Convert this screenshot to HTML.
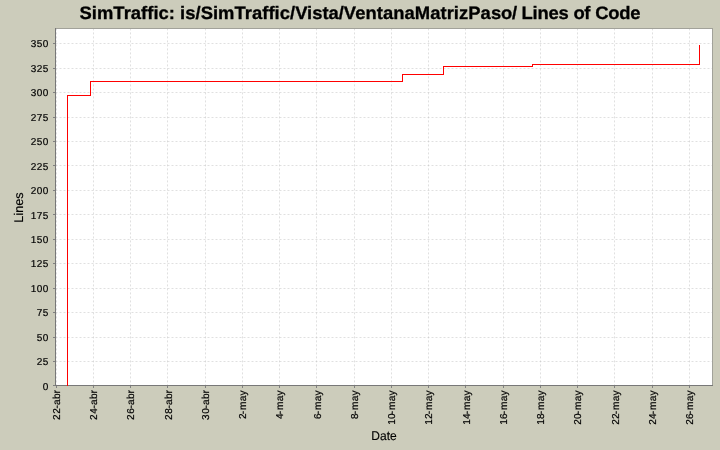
<!DOCTYPE html>
<html><head><meta charset="utf-8"><title>Lines of Code</title>
<style>
html,body{margin:0;padding:0;background:#ccccbb;}
body{width:720px;height:450px;overflow:hidden;font-family:"Liberation Sans",sans-serif;}
#wrap{width:720px;height:450px;will-change:transform;transform:translateZ(0);}
svg{display:block}
text{font-family:"Liberation Sans",sans-serif;fill:#000;text-rendering:geometricPrecision;}
</style></head><body><div id="wrap">
<svg width="720" height="450" viewBox="0 0 720 450">
<rect x="56" y="29" width="656" height="356" fill="#ffffff"/>

<g stroke="#c0c0c0" stroke-width="0.5" stroke-dasharray="2,2" fill="none">
<line x1="56.50" y1="28.4" x2="56.50" y2="385.5"/>
<line x1="93.50" y1="28.4" x2="93.50" y2="385.5"/>
<line x1="130.50" y1="28.4" x2="130.50" y2="385.5"/>
<line x1="167.50" y1="28.4" x2="167.50" y2="385.5"/>
<line x1="205.50" y1="28.4" x2="205.50" y2="385.5"/>
<line x1="242.50" y1="28.4" x2="242.50" y2="385.5"/>
<line x1="279.50" y1="28.4" x2="279.50" y2="385.5"/>
<line x1="316.50" y1="28.4" x2="316.50" y2="385.5"/>
<line x1="354.50" y1="28.4" x2="354.50" y2="385.5"/>
<line x1="391.50" y1="28.4" x2="391.50" y2="385.5"/>
<line x1="428.50" y1="28.4" x2="428.50" y2="385.5"/>
<line x1="465.50" y1="28.4" x2="465.50" y2="385.5"/>
<line x1="503.50" y1="28.4" x2="503.50" y2="385.5"/>
<line x1="540.50" y1="28.4" x2="540.50" y2="385.5"/>
<line x1="577.50" y1="28.4" x2="577.50" y2="385.5"/>
<line x1="614.50" y1="28.4" x2="614.50" y2="385.5"/>
<line x1="652.50" y1="28.4" x2="652.50" y2="385.5"/>
<line x1="689.50" y1="28.4" x2="689.50" y2="385.5"/>
<line x1="55.5" y1="361.50" x2="712.5" y2="361.50"/>
<line x1="55.5" y1="337.50" x2="712.5" y2="337.50"/>
<line x1="55.5" y1="312.50" x2="712.5" y2="312.50"/>
<line x1="55.5" y1="288.50" x2="712.5" y2="288.50"/>
<line x1="55.5" y1="263.50" x2="712.5" y2="263.50"/>
<line x1="55.5" y1="239.50" x2="712.5" y2="239.50"/>
<line x1="55.5" y1="214.50" x2="712.5" y2="214.50"/>
<line x1="55.5" y1="190.50" x2="712.5" y2="190.50"/>
<line x1="55.5" y1="165.50" x2="712.5" y2="165.50"/>
<line x1="55.5" y1="141.50" x2="712.5" y2="141.50"/>
<line x1="55.5" y1="117.50" x2="712.5" y2="117.50"/>
<line x1="55.5" y1="92.50" x2="712.5" y2="92.50"/>
<line x1="55.5" y1="68.50" x2="712.5" y2="68.50"/>
<line x1="55.5" y1="43.50" x2="712.5" y2="43.50"/>
</g>
<g shape-rendering="crispEdges">
<rect x="55" y="28" width="658" height="1" fill="#a2a29a"/>
<rect x="712" y="28" width="1" height="358" fill="#a2a29a"/>
<rect x="55" y="28" width="1" height="358" fill="#787878"/>
<rect x="55" y="385" width="658" height="1" fill="#787878"/>
<rect x="56" y="386" width="1" height="2" fill="#808080"/>
<rect x="93" y="386" width="1" height="2" fill="#808080"/>
<rect x="130" y="386" width="1" height="2" fill="#808080"/>
<rect x="167" y="386" width="1" height="2" fill="#808080"/>
<rect x="205" y="386" width="1" height="2" fill="#808080"/>
<rect x="242" y="386" width="1" height="2" fill="#808080"/>
<rect x="279" y="386" width="1" height="2" fill="#808080"/>
<rect x="316" y="386" width="1" height="2" fill="#808080"/>
<rect x="354" y="386" width="1" height="2" fill="#808080"/>
<rect x="391" y="386" width="1" height="2" fill="#808080"/>
<rect x="428" y="386" width="1" height="2" fill="#808080"/>
<rect x="465" y="386" width="1" height="2" fill="#808080"/>
<rect x="503" y="386" width="1" height="2" fill="#808080"/>
<rect x="540" y="386" width="1" height="2" fill="#808080"/>
<rect x="577" y="386" width="1" height="2" fill="#808080"/>
<rect x="614" y="386" width="1" height="2" fill="#808080"/>
<rect x="652" y="386" width="1" height="2" fill="#808080"/>
<rect x="689" y="386" width="1" height="2" fill="#808080"/>
<rect x="53" y="385" width="2" height="1" fill="#808080"/>
<rect x="53" y="361" width="2" height="1" fill="#808080"/>
<rect x="53" y="337" width="2" height="1" fill="#808080"/>
<rect x="53" y="312" width="2" height="1" fill="#808080"/>
<rect x="53" y="288" width="2" height="1" fill="#808080"/>
<rect x="53" y="263" width="2" height="1" fill="#808080"/>
<rect x="53" y="239" width="2" height="1" fill="#808080"/>
<rect x="53" y="214" width="2" height="1" fill="#808080"/>
<rect x="53" y="190" width="2" height="1" fill="#808080"/>
<rect x="53" y="165" width="2" height="1" fill="#808080"/>
<rect x="53" y="141" width="2" height="1" fill="#808080"/>
<rect x="53" y="117" width="2" height="1" fill="#808080"/>
<rect x="53" y="92" width="2" height="1" fill="#808080"/>
<rect x="53" y="68" width="2" height="1" fill="#808080"/>
<rect x="53" y="43" width="2" height="1" fill="#808080"/>
</g>
<text x="48.3" y="390" font-size="10" stroke="#000" stroke-width="0.2" text-anchor="end" textLength="5.5" lengthAdjust="spacing">0</text>
<text x="48.3" y="365" font-size="10" stroke="#000" stroke-width="0.2" text-anchor="end" textLength="11.5" lengthAdjust="spacing">25</text>
<text x="48.3" y="341" font-size="10" stroke="#000" stroke-width="0.2" text-anchor="end" textLength="11.5" lengthAdjust="spacing">50</text>
<text x="48.3" y="316" font-size="10" stroke="#000" stroke-width="0.2" text-anchor="end" textLength="11.5" lengthAdjust="spacing">75</text>
<text x="48.3" y="292" font-size="10" stroke="#000" stroke-width="0.2" text-anchor="end" textLength="17.5" lengthAdjust="spacing">100</text>
<text x="48.3" y="267" font-size="10" stroke="#000" stroke-width="0.2" text-anchor="end" textLength="17.5" lengthAdjust="spacing">125</text>
<text x="48.3" y="243" font-size="10" stroke="#000" stroke-width="0.2" text-anchor="end" textLength="17.5" lengthAdjust="spacing">150</text>
<text x="48.3" y="219" font-size="10" stroke="#000" stroke-width="0.2" text-anchor="end" textLength="17.5" lengthAdjust="spacing">175</text>
<text x="48.3" y="194" font-size="10" stroke="#000" stroke-width="0.2" text-anchor="end" textLength="17.5" lengthAdjust="spacing">200</text>
<text x="48.3" y="170" font-size="10" stroke="#000" stroke-width="0.2" text-anchor="end" textLength="17.5" lengthAdjust="spacing">225</text>
<text x="48.3" y="145" font-size="10" stroke="#000" stroke-width="0.2" text-anchor="end" textLength="17.5" lengthAdjust="spacing">250</text>
<text x="48.3" y="121" font-size="10" stroke="#000" stroke-width="0.2" text-anchor="end" textLength="17.5" lengthAdjust="spacing">275</text>
<text x="48.3" y="96" font-size="10" stroke="#000" stroke-width="0.2" text-anchor="end" textLength="17.5" lengthAdjust="spacing">300</text>
<text x="48.3" y="72" font-size="10" stroke="#000" stroke-width="0.2" text-anchor="end" textLength="17.5" lengthAdjust="spacing">325</text>
<text x="48.3" y="47" font-size="10" stroke="#000" stroke-width="0.2" text-anchor="end" textLength="17.5" lengthAdjust="spacing">350</text>
<text transform="translate(60,390) rotate(-90)" x="-30.00 -23.70 -18.40 -14.90 -9.10 -3.50" y="0" font-size="10" stroke="#000" stroke-width="0.2">22<tspan font-size="10.2">-abr</tspan></text>
<text transform="translate(97,390) rotate(-90)" x="-30.00 -23.70 -18.40 -14.90 -9.10 -3.50" y="0" font-size="10" stroke="#000" stroke-width="0.2">24<tspan font-size="10.2">-abr</tspan></text>
<text transform="translate(134,390) rotate(-90)" x="-30.00 -23.70 -18.40 -14.90 -9.10 -3.50" y="0" font-size="10" stroke="#000" stroke-width="0.2">26<tspan font-size="10.2">-abr</tspan></text>
<text transform="translate(172,390) rotate(-90)" x="-30.00 -23.70 -18.40 -14.90 -9.10 -3.50" y="0" font-size="10" stroke="#000" stroke-width="0.2">28<tspan font-size="10.2">-abr</tspan></text>
<text transform="translate(209,390) rotate(-90)" x="-30.00 -23.70 -18.40 -14.90 -9.10 -3.50" y="0" font-size="10" stroke="#000" stroke-width="0.2">30<tspan font-size="10.2">-abr</tspan></text>
<text transform="translate(246,390) rotate(-90)" x="-28.95 -24.30 -20.10 -11.20 -5.40" y="0" font-size="10" stroke="#000" stroke-width="0.2">2<tspan font-size="10.2">-may</tspan></text>
<text transform="translate(283,390) rotate(-90)" x="-28.95 -24.30 -20.10 -11.20 -5.40" y="0" font-size="10" stroke="#000" stroke-width="0.2">4<tspan font-size="10.2">-may</tspan></text>
<text transform="translate(321,390) rotate(-90)" x="-28.95 -24.30 -20.10 -11.20 -5.40" y="0" font-size="10" stroke="#000" stroke-width="0.2">6<tspan font-size="10.2">-may</tspan></text>
<text transform="translate(358,390) rotate(-90)" x="-28.95 -24.30 -20.10 -11.20 -5.40" y="0" font-size="10" stroke="#000" stroke-width="0.2">8<tspan font-size="10.2">-may</tspan></text>
<text transform="translate(395,390) rotate(-90)" x="-34.80 -28.95 -24.30 -20.10 -11.20 -5.40" y="0" font-size="10" stroke="#000" stroke-width="0.2">10<tspan font-size="10.2">-may</tspan></text>
<text transform="translate(432,390) rotate(-90)" x="-34.80 -28.95 -24.30 -20.10 -11.20 -5.40" y="0" font-size="10" stroke="#000" stroke-width="0.2">12<tspan font-size="10.2">-may</tspan></text>
<text transform="translate(470,390) rotate(-90)" x="-34.80 -28.95 -24.30 -20.10 -11.20 -5.40" y="0" font-size="10" stroke="#000" stroke-width="0.2">14<tspan font-size="10.2">-may</tspan></text>
<text transform="translate(507,390) rotate(-90)" x="-34.80 -28.95 -24.30 -20.10 -11.20 -5.40" y="0" font-size="10" stroke="#000" stroke-width="0.2">16<tspan font-size="10.2">-may</tspan></text>
<text transform="translate(544,390) rotate(-90)" x="-34.80 -28.95 -24.30 -20.10 -11.20 -5.40" y="0" font-size="10" stroke="#000" stroke-width="0.2">18<tspan font-size="10.2">-may</tspan></text>
<text transform="translate(581,390) rotate(-90)" x="-34.80 -28.95 -24.30 -20.10 -11.20 -5.40" y="0" font-size="10" stroke="#000" stroke-width="0.2">20<tspan font-size="10.2">-may</tspan></text>
<text transform="translate(619,390) rotate(-90)" x="-34.80 -28.95 -24.30 -20.10 -11.20 -5.40" y="0" font-size="10" stroke="#000" stroke-width="0.2">22<tspan font-size="10.2">-may</tspan></text>
<text transform="translate(656,390) rotate(-90)" x="-34.80 -28.95 -24.30 -20.10 -11.20 -5.40" y="0" font-size="10" stroke="#000" stroke-width="0.2">24<tspan font-size="10.2">-may</tspan></text>
<text transform="translate(693,390) rotate(-90)" x="-34.80 -28.95 -24.30 -20.10 -11.20 -5.40" y="0" font-size="10" stroke="#000" stroke-width="0.2">26<tspan font-size="10.2">-may</tspan></text>
<text transform="scale(1.0222,1)" x="77.77 89.82 94.85 110.91 120.96 128.00 138.05 144.07 150.10 155.12 165.16 171.19 176.21 181.23 191.29 196.31 208.36 213.38 229.47 239.51 246.54 256.60 262.61 268.63 273.66 283.71 288.73 300.39 305.38 315.38 321.37 331.35 336.36 347.43 357.51 368.58 374.60 384.68 395.75 405.81 420.89 430.96 436.97 444.03 449.05 458.10 470.16 480.23 490.14 500.99 505.64 510.25 521.02 525.91 536.67 546.40 556.14 561.00 571.63 577.41 582.25 595.00 605.80 616.61" y="19" font-size="18" font-weight="bold" stroke="#000" stroke-width="0.3">SimTraffic: is/SimTraffic/Vista/VentanaMatrizPaso/ Lines of Code</text>
<text x="384" y="439.8" font-size="12.6" text-anchor="middle" textLength="25.4" lengthAdjust="spacingAndGlyphs" stroke="#000" stroke-width="0.15">Date</text>
<text transform="translate(23,207.5) rotate(-90)" font-size="12.6" text-anchor="middle" textLength="30.3" lengthAdjust="spacing" stroke="#000" stroke-width="0.15">Lines</text>
<polyline points="67.5,386 67.5,95.5 90.5,95.5 90.5,81.5 402.5,81.5 402.5,74.5 443.5,74.5 443.5,66.5 532.5,66.5 532.5,64.5 699.5,64.5 699.5,45.0" fill="none" stroke="#ff0000" stroke-width="1" stroke-linejoin="miter" shape-rendering="crispEdges"/>
</svg></div></body></html>
